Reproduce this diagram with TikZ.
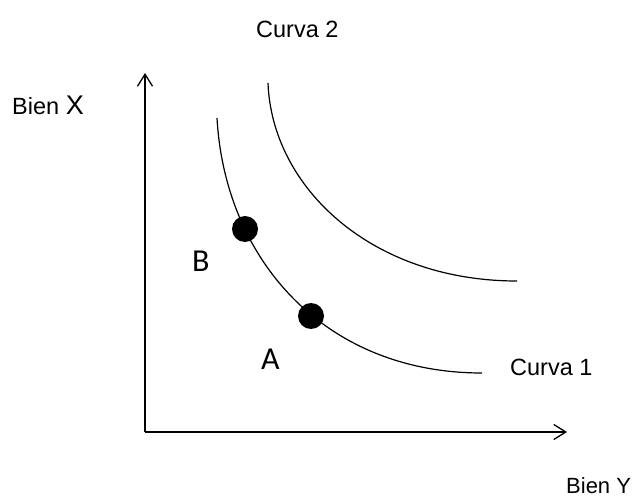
\documentclass[tikz,border=0pt]{standalone}
\usepackage{fontspec}
\setmainfont{Liberation Sans}
\newfontfamily\carl{Carlito}
\usetikzlibrary{arrows.meta}
\begin{document}
\begin{tikzpicture}[x=1pt,y=-1pt,
  axis/.style={line width=1.5pt,-{Straight Barb[length=12pt,width=15pt,line width=1.3pt]}},
  curve/.style={line width=1.2pt},
  dot/.style={circle,fill=black,inner sep=0pt,minimum width=25pt,minimum height=26pt},
  lbl/.style={inner sep=0pt,font=\fontsize{23.5}{27}\selectfont},
  pt/.style={inner sep=0pt,font=\carl\fontsize{32}{36}\selectfont}]
\clip (0,0) rectangle (637,497);
\fill[white] (0,0) rectangle (637,497);
% axes
\coordinate (O) at (145,432);
\coordinate (ytop) at (145,73);
\coordinate (xend) at (567,432);
\draw[axis] (O) -- (ytop);
\draw[axis] (O) -- (xend);
% curves
\coordinate (c1s) at (217,118);
\coordinate (c1e) at (482,373);
\coordinate (c2s) at (268,83);
\coordinate (c2e) at (517,281);
\draw[curve] (c1s) .. controls (225,260) and (325,373) .. (c1e);
\draw[curve] (c2s) .. controls (272,188) and (372,281) .. (c2e);
% points
\node[dot] (B) at (245,229) {};
\node[dot] (A) at (311,316) {};
% labels
\node[pt,anchor=base west] (Bl) at (192,271.7) {B};
\node[pt,anchor=base west] (Al) at (261,369.3) {A};
\node[lbl,anchor=base west] (c2) at (256,37.7) {Curva 2};
\node[lbl,anchor=base west] (c1) at (510,375) {Curva 1};
\node[lbl,anchor=base west] (bx) at (12,115) {Bien \fontsize{27}{30}\selectfont X};
\node[lbl,anchor=base west,font=\fontsize{22}{26}\selectfont] (by) at (566,493) {Bien Y};
\end{tikzpicture}
\end{document}
